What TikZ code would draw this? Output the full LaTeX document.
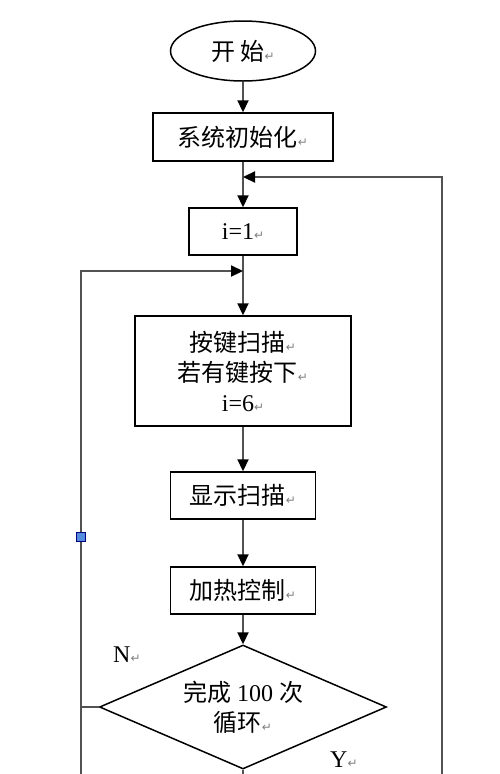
\documentclass[tikz,border=0pt]{standalone}
\usepackage{fontspec}
\setmainfont{Liberation Serif}
\newfontfamily\cjk{Noto Sans CJK SC}
\newfontfamily\retfont{DejaVu Sans}
\usetikzlibrary{positioning,shapes.geometric,arrows.meta}
\definecolor{handleblue}{RGB}{84,141,222}
\newcommand{\parret}{{\retfont\fontsize{12}{12}\selectfont\color{gray}↵}}

\begin{document}
\begin{tikzpicture}[x=1pt, y=1pt, node distance=90pt, font=\fontsize{24}{30}\selectfont,
  block/.style={rectangle, draw, line width=1.5pt, inner sep=0pt, minimum height=47pt, minimum width=145pt},
  startstop/.style={ellipse, draw, line width=1.5pt, inner sep=0pt, minimum width=145pt, minimum height=60pt},
  decision/.style={diamond, draw, line width=1.5pt, inner sep=0pt, aspect=2.3, minimum width=287pt, minimum height=124pt, align=center},
  wire/.style={draw=black!68, line width=2.2pt},
  line/.style={wire, -{Triangle[length=12pt, width=11pt, color=black]}},
  lbl/.style={anchor=west, inner sep=0pt},
  handle/.style={rectangle, fill=handleblue, draw=blue!50!black, line width=0.5pt, minimum size=9pt, inner sep=0pt}]

  \useasboundingbox (0,0) rectangle (500,-774);

  \node[startstop] (start) at (243,-51) {{\cjk 开\ 始}\parret};
  \node[block, below of=start, node distance=86pt, minimum width=180pt, minimum height=48pt] (init) {{\cjk 系统初始化}\parret};
  \node[block, below of=init, node distance=94.5pt, minimum width=108pt] (seti) {i=1\parret};
  \node[block, below of=seti, node distance=139.5pt, minimum width=216pt, minimum height=110pt, align=center] (scan) {{\cjk 按键扫描}\parret\\{\cjk 若有键按下}\parret\\i=6\parret};
  \node[block, below of=scan, node distance=124.5pt] (disp) {{\cjk 显示扫描}\parret};
  \node[block, below of=disp, node distance=95pt] (heat) {{\cjk 加热控制}\parret};
  \node[decision, below of=heat, node distance=116.5pt] (loop) {{\cjk 完成}\hspace{6pt}100\hspace{6pt}{\cjk 次}\\{\cjk 循环}\parret};

  \node[coordinate, below of=init, node distance=40pt] (rjoin) {};
  \node[coordinate, right of=rjoin, node distance=199pt] (rtop) {};
  \node[coordinate, below of=seti, node distance=39.5pt] (ljoin) {};
  \node[coordinate, left of=ljoin, node distance=162pt] (ltop) {};
  \node[coordinate] (lbot) at (81,-774) {};
  \node[coordinate] (rbot) at (442,-774) {};
  \node[coordinate] (dbot) at (243,-774) {};

  \node[lbl] (nlab) at (113,-655) {N\parret};
  \node[lbl] (ylab) at (330,-760) {Y\parret};

  \draw[line] (start) -- (init);
  \draw[line] (init) -- (seti);
  \draw[line] (seti) -- (scan);
  \draw[line] (scan) -- (disp);
  \draw[line] (disp) -- (heat);
  \draw[line] (heat) -- (loop);
  \draw[wire] (loop.west) -- (ltop |- loop.west);
  \draw[line] (lbot) -- (ltop) -- (ljoin);
  \draw[wire] (loop.south) -- (dbot);
  \draw[line] (rbot) -- (rtop) -- (rjoin);

  \node[handle] (hdl) at (81,-537) {};
  \end{tikzpicture}
\end{document}
